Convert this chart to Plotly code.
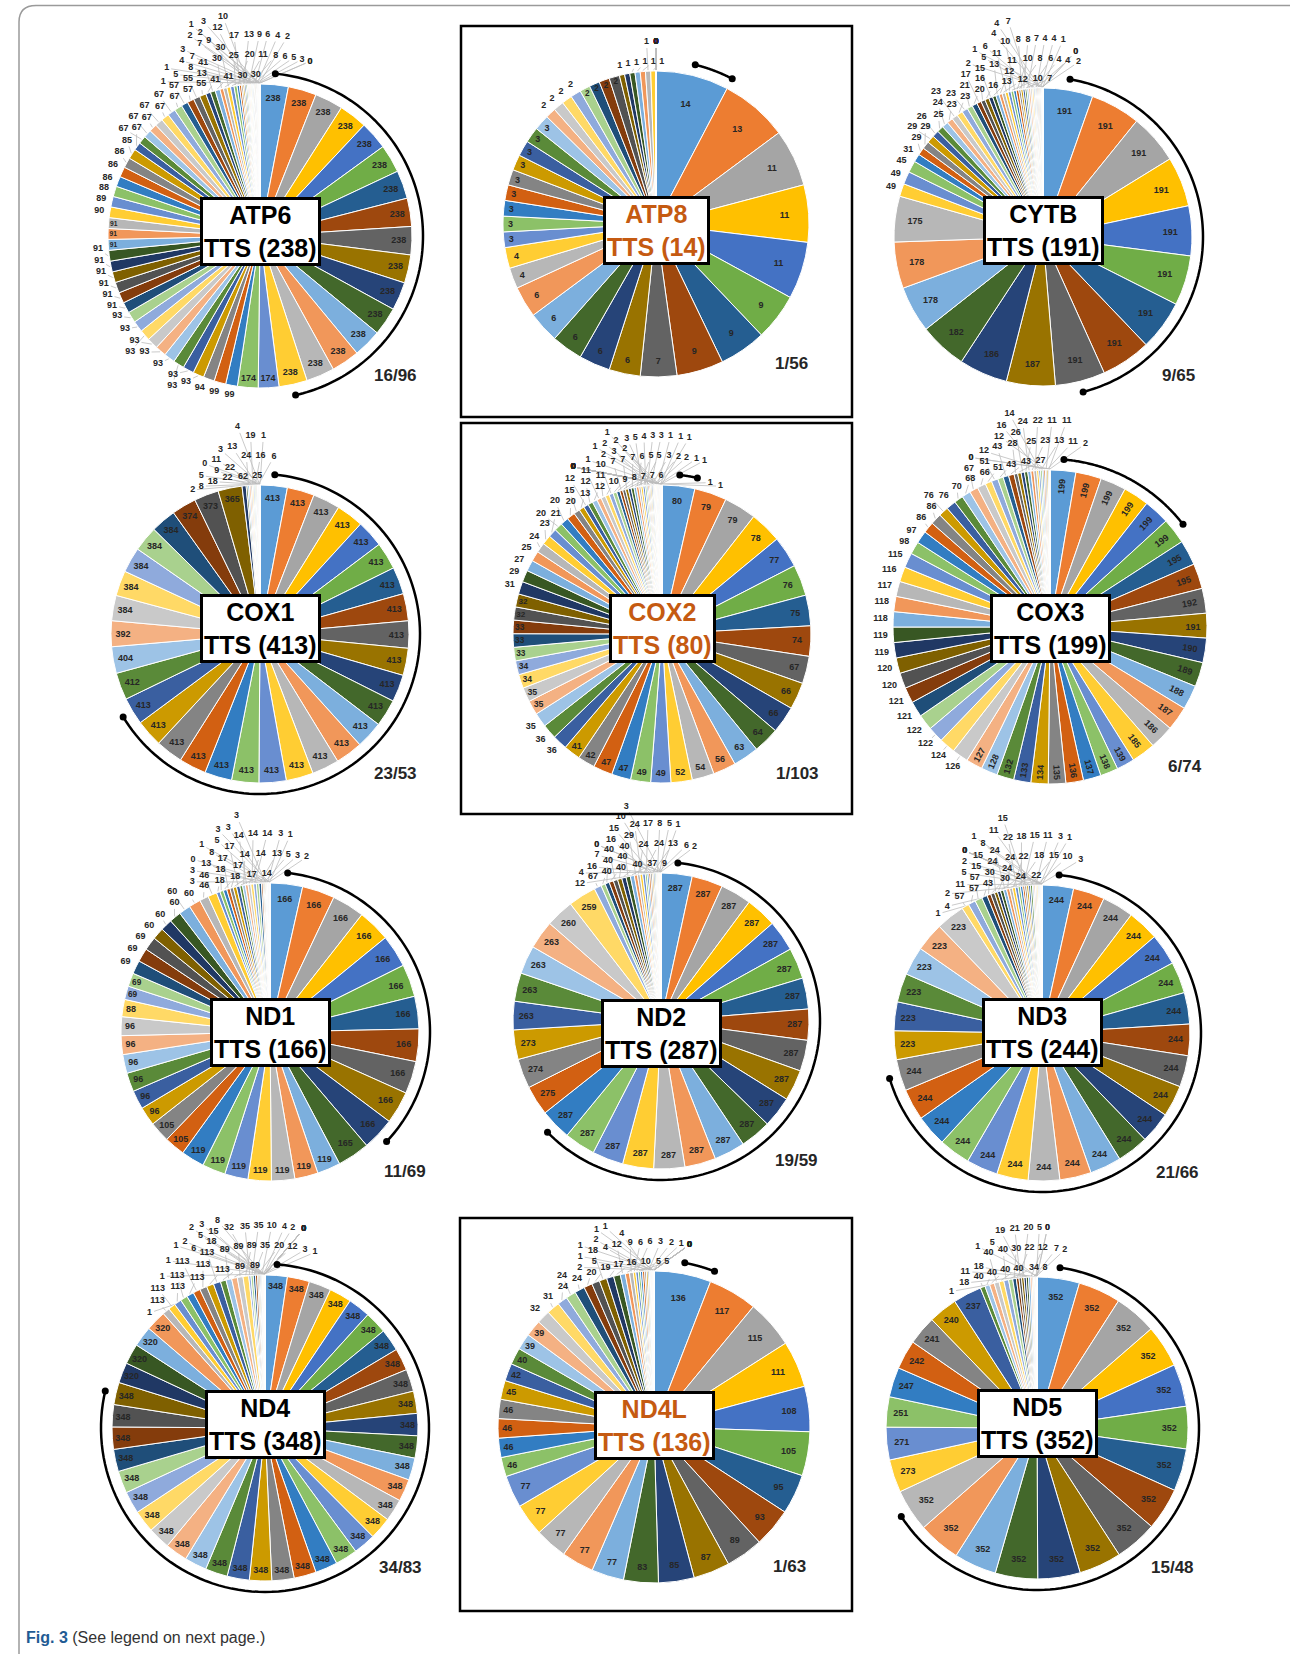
import math
import numpy as np
import plotly.graph_objects as go

# ---------------- data ----------------
genes = ["ATP6", "ATP8", "CYTB", "COX1", "COX2", "COX3",
         "ND1", "ND2", "ND3", "ND4", "ND4L", "ND5"]
tts_counts = [16, 1, 9, 23, 1, 6, 11, 19, 21, 34, 1, 15]

atp6 = [238, 238, 238, 238, 238, 238, 238, 238, 238, 238, 238, 238, 238, 238, 238, 238,
        174, 174, 99, 99, 94,
        93, 93, 93, 93, 93, 93, 93, 93, 93,
        91, 91, 91, 91, 91, 91, 91, 91, 91,
        90, 89, 88, 86, 86, 86, 85,
        67, 67, 67, 67, 67, 67, 67, 67,
        57, 57, 55, 55, 41, 41, 41, 30, 30, 30, 30, 25, 20, 17, 13, 13, 12, 11, 10,
        9, 9, 8, 8, 7, 7, 6, 6, 5, 5, 4, 4, 3, 3, 3, 2, 2, 2, 1, 1, 1, 0, 0]
atp8 = [14, 13, 11, 11, 11, 9, 9, 9, 7, 6, 6, 6, 6, 6, 4, 4,
        3, 3, 3, 3, 3, 3, 3, 3, 3, 2, 2, 2, 2, 2, 2, 2, 2,
        1, 1, 1, 1, 1, 1, 1,
        0, 0, 0, 0, 0, 0, 0, 0, 0, 0, 0, 0, 0, 0, 0, 0]
cytb = [191, 191, 191, 191, 191, 191, 191, 191, 191, 187, 186, 182, 178, 178, 175,
        49, 49, 45, 31, 29, 29, 29, 26, 25, 24, 23, 23, 23, 23, 21, 20, 17,
        16, 16, 15, 13, 13, 12, 12, 11, 11, 10, 10, 10, 8, 8, 8, 7, 7, 7,
        6, 6, 5, 4, 4, 4, 4, 4, 4, 2, 2, 1, 1, 0, 0]
cox1 = [413, 413, 413, 413, 413, 413, 413, 413, 413, 413, 413, 413, 413, 413, 413,
        413, 413, 413, 413, 413, 413, 413, 413,
        412, 404, 392, 384, 384, 384, 384, 384, 374, 373, 365,
        62, 25, 24, 22, 22, 19, 18, 16, 13, 11, 9, 8, 6, 5, 4, 3, 2, 1, 0]
cox2 = [80, 79, 79, 78, 77, 76, 75, 74, 67, 66, 66, 64, 63, 56, 54, 52, 49, 49,
        47, 47, 42, 41, 36, 36, 35, 35, 35, 34, 34, 33, 33, 33, 32, 32,
        31, 29, 27, 25, 24, 23, 21, 20, 20, 20, 15, 13, 12, 12, 12, 11, 11, 10, 10,
        9, 8, 7, 7, 7, 7, 7, 6, 6, 5, 5, 5, 4, 3, 3, 3,
        3, 3, 2, 2, 2, 2, 2, 2, 1, 1, 1, 1, 1, 1, 1, 1, 1, 1,
        0, 0, 0, 0, 0, 0, 0, 0, 0, 0, 0, 0, 0, 0, 0, 0]
cox3 = [199, 199, 199, 199, 199, 199, 195, 195, 192, 191, 190, 189, 188, 187, 186, 185,
        139, 138, 137, 136, 135, 134, 133, 132, 128, 127,
        126, 124, 122, 122, 121, 121, 120, 120, 119, 119, 118, 118, 117, 116, 115,
        98, 97, 86, 86, 76, 76, 70, 68, 67, 66, 51, 51, 43, 43, 43,
        28, 27, 26, 25, 24, 23, 22, 16, 14, 13, 12, 12, 11, 11, 11, 2, 0, 0]
nd1 = [166, 166, 166, 166, 166, 166, 166, 166, 166, 166, 166, 165,
       119, 119, 119, 119, 119, 119, 119, 105, 105, 96, 96, 96, 96, 96, 96, 88,
       69, 69, 69, 69, 69, 60, 60, 60, 60, 60, 46, 46, 18, 18, 18, 17, 17, 17, 17,
       14, 14, 14, 14, 14, 14, 13, 13, 8, 5, 5, 3, 3, 3, 3, 3, 3, 3, 2, 1, 1, 0]
nd2 = [287, 287, 287, 287, 287, 287, 287, 287, 287, 287, 287, 287, 287, 287, 287,
       287, 287, 287, 287, 275, 274, 273, 263, 263, 263, 263, 260, 259,
       67, 40, 40, 40, 40, 40, 40, 40, 37, 29, 24, 24, 24, 17, 16, 16,
       15, 13, 12, 10, 9, 8, 7, 6, 5, 4, 3, 2, 1, 0, 0]
nd3 = [244, 244, 244, 244, 244, 244, 244, 244, 244, 244, 244, 244, 244, 244, 244,
       244, 244, 244, 244, 244, 244, 223, 223, 223, 223, 223, 223,
       57, 57, 57, 43, 30, 30, 24, 24, 24, 24, 24, 22, 22, 22, 18, 18,
       15, 15, 15, 15, 15, 11, 11, 11, 10, 8, 5, 4, 3, 3, 2, 2, 1, 1, 1, 0, 0, 0, 0]
nd4 = [348, 348, 348, 348, 348, 348, 348, 348, 348, 348, 348, 348, 348, 348, 348, 348, 348,
       348, 348, 348, 348, 348, 348, 348, 348, 348, 348, 348, 348, 348, 348, 348, 348, 348,
       320, 320, 320, 320, 113, 113, 113, 113, 113, 113, 113, 113, 113,
       89, 89, 89, 89, 89, 35, 35, 35, 32, 20,
       18, 15, 12, 10, 8, 6, 5, 4, 3, 3, 2, 2, 2, 1, 1, 1, 1, 1, 0, 0, 0, 0, 0, 0, 0, 0]
nd4l = [136, 117, 115, 111, 108, 105, 95, 93, 89, 87, 85, 83, 77, 77, 77, 77, 77,
        46, 46, 46, 46, 45, 42, 40, 39, 39,
        32, 31, 24, 24, 24, 20, 19, 18, 17, 16, 12, 10, 9, 6, 6, 5, 5, 5, 4, 4, 3, 2, 2,
        2, 1, 1, 1, 1, 1, 0, 0, 0, 0, 0, 0, 0, 0]
nd5 = [352, 352, 352, 352, 352, 352, 352, 352, 352, 352, 352, 352, 352, 352, 352,
       273, 271, 251, 247, 242, 241, 240, 237,
       40, 40, 40, 40, 40, 40, 34, 30, 22, 21, 20, 19, 18, 18, 12, 11, 8, 7, 5, 5,
       2, 1, 1, 0, 0]

series = [atp6, atp8, cytb, cox1, cox2, cox3, nd1, nd2, nd3, nd4, nd4l, nd5]

# ---------------- style / layout ----------------
W, H = 1290, 1654
FONT = "Liberation Sans, Arial, sans-serif"
LABEL_COLOR = "#262626"
# pie centre x, centre y, radius (px)
geom = [(260, 236, 152), (656, 224, 153), (1043, 237, 149),
        (260, 634, 149), (662, 634, 149), (1050, 627, 157),
        (270, 1032, 149), (661, 1021, 148), (1042, 1033, 148),
        (265, 1428, 153), (654, 1427, 156), (1037, 1428, 151)]
title_dy = [-5, 6, -7, -6, -6, 2, 0, 12, -1, -4, -2, -5]
top_bound = [8, 30, 8, 400, 427, 400, 795, 795, 795, 1195, 1222, 1195]
orientation = ["horizontal"] * 12
orientation[5] = "radial"
highlight = {1, 4, 10}
boxes = [(461, 26, 852, 417), (461, 423, 852, 814), (460, 1218, 852, 1611)]

base = ["#5B9BD5", "#ED7D31", "#A5A5A5", "#FFC000", "#4472C4", "#70AD47"]
dark = ["#255E91", "#9E480E", "#636363", "#997300", "#264478", "#43682B"]
light = ["#7CAFDD", "#F1975A", "#B7B7B7", "#FFCD33", "#698ED0", "#8CC168"]
medium = ["#327DC2", "#D26012", "#848484", "#CC9A00", "#3A5FA0", "#5A8A39"]
light2 = ["#9DC3E6", "#F4B183", "#C9C9C9", "#FFD966", "#8FAADC", "#A9D18E"]
dark2 = ["#1F4E79", "#843C0C", "#525252", "#7F6000", "#203864", "#385723"]
group_order = [base, dark, light, medium, light2, dark2, light, medium, light2,
               dark, light, medium, light2, dark2, light, medium, light2, dark, light]
palette = [c for g in group_order for c in g]


def fx(x):
    return x / W


def fy(y):
    return 1 - y / H


def compute_layout(vals, r, ntts, orient, top_room, max_R):
    total = float(sum(vals))
    fs = 9.0
    dw = 0.556 * fs
    start, acc = [], 0.0
    for v in vals:
        start.append(acc / total * 360.0)
        acc += v
    wdeg = [v / total * 360.0 for v in vals]
    mid = [s + w / 2 for s, w in zip(start, wdeg)]
    inside = []
    for v, w, m in zip(vals, wdeg, mid):
        tw = dw * len(str(v))
        th = 0.8 * fs
        arcw = 0.88 * r * math.radians(w)
        a = math.radians(m)
        if orient == "radial":
            need = 14.6
        else:
            need = tw * abs(math.cos(a)) + th * abs(math.sin(a)) + 1.5
        inside.append(v > 0 and arcw >= need)
    if ntts > 1:
        a0, a1 = mid[0], mid[ntts - 1]
    else:
        a0, a1 = start[0] + 0.5 * wdeg[0], start[0] + wdeg[0]
    arc_r = r + 11

    cands = []
    for k in range(9):
        R = r + 4 + 10 * k
        for d in range(-60, 40):
            cands.append((abs(math.radians(d)) * R + 9 * k, R, d))

    placed, labels, lines = [], [], []
    zero_spot = None
    for i, v in enumerate(vals):
        if inside[i]:
            continue
        txt = str(v)
        w = dw * len(txt) + 2
        h = fs + 1
        if v == 0 and zero_spot is not None:
            x, y = zero_spot
        else:
            best = None
            scored = []
            for cost, R, d in cands:
                ang = mid[i] + d
                if ang > 360:
                    cost = cost * 1.8
                scored.append((cost, R, d))
            scored.sort()
            for cost, R, d in scored:
                angd = mid[i] + d
                phi = math.radians(angd)
                s, c = math.sin(phi), math.cos(phi)
                ext = (w / 2) * abs(s) + (h / 2) * abs(c)
                rc = R + ext
                x, y = rc * s, rc * c
                if y + h / 2 > top_room:
                    continue
                if math.hypot(abs(x) + w / 2, abs(y) + h / 2) > max_R - 1:
                    continue
                ok = True
                for (x2, y2, w2, h2) in placed:
                    if abs(x - x2) < (w + w2) / 2 + 1 and abs(y - y2) < (h + h2) / 2 + 0.5:
                        ok = False
                        break
                if not ok:
                    continue
                if rc - ext - 2 < arc_r + 4 and rc + ext + 2 > arc_r - 4:
                    dang = math.degrees(math.atan2(max(w, h) / 2 + 2, rc))
                    a = angd % 360
                    clash = False
                    for sh in (-360, 0, 360):
                        if a + sh + dang > a0 - 2 and a + sh - dang < a1 + 2:
                            clash = True
                    if clash:
                        continue
                best = (x, y)
                break
            if best is None:
                phi = math.radians(mid[i])
                best = ((r + 8) * math.sin(phi), (r + 8) * math.cos(phi))
            x, y = best
            if v == 0:
                zero_spot = (x, y)
        placed.append((x, y, w, h))
        labels.append((x, y, txt))
        ea = math.radians(mid[i])
        ex, ey = (r + 1) * math.sin(ea), (r + 1) * math.cos(ea)
        dx, dy = ex - x, ey - y
        tx = (w / 2 + 1) / abs(dx) if abs(dx) > 1e-9 else 1e9
        ty = (h / 2 + 1) / abs(dy) if abs(dy) > 1e-9 else 1e9
        t = min(tx, ty)
        if t < 1:
            px_, py_ = x + t * dx, y + t * dy
            if math.hypot(ex - px_, ey - py_) > 3:
                lines.append((ex, ey, px_, py_))
    return inside, labels, lines, (a0, a1, arc_r)


def to_polar(x, y):
    return math.hypot(x, y), math.degrees(math.atan2(x, y)) % 360


fig = go.Figure()
annotations, shapes = [], []
layout_polars = {}

for idx, gene in enumerate(genes):
    vals = series[idx]
    ntts = tts_counts[idx]
    cx, cy, r = geom[idx]
    M = min(80, cx - r, W - cx - r, cy - r, H - cy - r) - 1
    R0 = r + M
    top_room = min(r + 72, cy - top_bound[idx])
    inside, labels, lines, (a0, a1, arc_r) = compute_layout(
        vals, r, ntts, orientation[idx], top_room, R0)

    colors = [palette[i % len(palette)] for i in range(len(vals))]
    fig.add_trace(go.Pie(
        values=vals,
        text=[str(v) for v in vals],
        textinfo="text",
        textposition=["inside" if f else "none" for f in inside],
        insidetextorientation=orientation[idx],
        insidetextfont=dict(family=FONT, size=9, color=LABEL_COLOR, weight="bold"),
        sort=False, direction="clockwise", rotation=0,
        marker=dict(colors=colors, line=dict(color="white", width=1)),
        domain=dict(x=[fx(cx - r), fx(cx + r)], y=[fy(cy + r), fy(cy - r)]),
        hoverinfo="none", showlegend=False,
    ))

    pname = "polar" if idx == 0 else f"polar{idx + 1}"
    layout_polars[pname] = dict(
        domain=dict(x=[fx(cx - R0), fx(cx + R0)], y=[fy(cy + R0), fy(cy - R0)]),
        bgcolor="rgba(0,0,0,0)",
        radialaxis=dict(visible=False, range=[0, R0]),
        angularaxis=dict(visible=False, rotation=90, direction="clockwise"),
    )

    # leader lines
    lr, lt = [], []
    for (ex, ey, px_, py_) in lines:
        r1, t1 = to_polar(ex, ey)
        r2, t2 = to_polar(px_, py_)
        lr += [r1, r2, None]
        lt += [t1, t2, None]
    fig.add_trace(go.Scatterpolar(
        r=lr, theta=lt, mode="lines", subplot=pname,
        line=dict(color="#BDBDBD", width=0.8), hoverinfo="skip", showlegend=False))
    # outside labels
    rr, tt, txts = [], [], []
    for (x, y, txt) in labels:
        a, b = to_polar(x, y)
        rr.append(a)
        tt.append(b)
        txts.append(txt)
    fig.add_trace(go.Scatterpolar(
        r=rr, theta=tt, text=txts, mode="text", subplot=pname, cliponaxis=False,
        textposition="middle center",
        textfont=dict(family=FONT, size=9, color=LABEL_COLOR, weight="bold"),
        hoverinfo="skip", showlegend=False))
    # arc over the full-length slices
    th = np.linspace(a0, a1, 120)
    fig.add_trace(go.Scatterpolar(
        r=[arc_r] * len(th), theta=th, mode="lines", subplot=pname,
        line=dict(color="black", width=2.5), hoverinfo="skip", showlegend=False))
    fig.add_trace(go.Scatterpolar(
        r=[arc_r, arc_r], theta=[a0, a1], mode="markers", subplot=pname, cliponaxis=False,
        marker=dict(color="black", size=7), hoverinfo="skip", showlegend=False))

    tcol = "#C55A11" if idx in highlight else "black"
    annotations.append(dict(
        x=fx(cx), y=fy(cy + title_dy[idx]), xref="paper", yref="paper",
        text=f"<b>{gene}<br>TTS ({vals[0]})</b>", showarrow=False,
        font=dict(family=FONT, size=25, color=tcol),
        bgcolor="white", bordercolor="black", borderwidth=3, borderpad=1,
        xanchor="center", yanchor="middle"))
    annotations.append(dict(
        x=fx(cx + 135), y=fy(cy + 139), xref="paper", yref="paper",
        text=f"<b>{ntts}/{len(vals)}</b>", showarrow=False,
        font=dict(family=FONT, size=17, color="#262626"),
        xanchor="center", yanchor="middle"))

for (x0, y0, x1, y1) in boxes:
    shapes.append(dict(type="rect", xref="paper", yref="paper",
                       x0=fx(x0), x1=fx(x1), y0=fy(y1), y1=fy(y0),
                       line=dict(color="black", width=2.5), layer="above"))

# outer frame (rounded top-left corner)
path = (f"M {fx(1290)} {fy(5.5)} L {fx(36)} {fy(5.5)} "
        f"Q {fx(19)} {fy(5.5)} {fx(19)} {fy(22)} L {fx(19)} {fy(1654)}")
shapes.append(dict(type="path", xref="paper", yref="paper", path=path,
                   line=dict(color="#9A9A9A", width=1.5)))

annotations.append(dict(
    x=fx(24), y=fy(1637), xref="paper", yref="paper", xanchor="left", yanchor="middle",
    text="<b><span style='color:#1F5B94'>Fig. 3</span></b> (See legend on next page.)",
    showarrow=False, font=dict(family=FONT, size=16, color="#333333")))

fig.update_layout(
    width=W, height=H, autosize=False,
    margin=dict(l=0, r=0, t=0, b=0),
    paper_bgcolor="white", plot_bgcolor="white",
    showlegend=False,
    annotations=annotations, shapes=shapes,
    **layout_polars,
)

fig.write_html("out.html")
